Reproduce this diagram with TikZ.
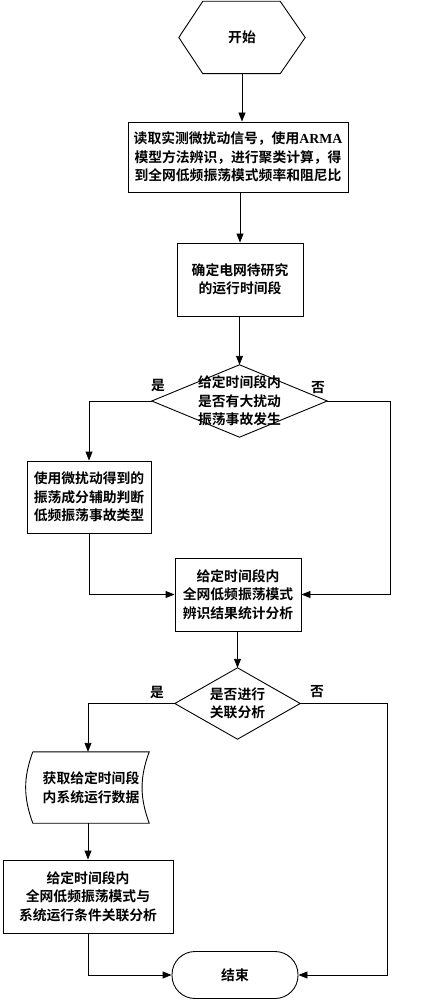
\documentclass[tikz,border=0pt]{standalone}
\usepackage{fontspec}
\usepackage{tikz}
\usetikzlibrary{arrows.meta, calc, positioning}
\newfontfamily\cjk{Noto Sans CJK SC}[BoldFont={Noto Sans CJK SC Bold}]
\newfontfamily\latin{Liberation Serif}

\begin{document}
\begin{tikzpicture}[x=1pt, y=-1pt,
  every node/.style={font=\cjk\bfseries\fontsize{13.8}{18.5}\selectfont, align=center},
  procbox/.style={draw, line width=0.9pt, inner sep=0pt},
  link/.style={line width=0.9pt},
  arr/.style={line width=0.9pt, -{Triangle[length=9pt, width=7pt]}}]

\useasboundingbox (0,0) rectangle (432,1000);

% Start (hexagon)
\node[minimum width=126pt, minimum height=72pt, inner sep=0pt] (start) at (242,37.5) {开始};
\draw[link] (start.west) -- ([xshift=24pt]start.north west) -- ([xshift=-25pt]start.north east)
  -- (start.east) -- ([xshift=-25pt]start.south east) -- ([xshift=24pt]start.south west) -- cycle;

% Read measured signals and identify modes
\node[procbox, minimum width=220pt, minimum height=70pt] (read) at (238,157)
  {读取实测微扰动信号，使用{\latin ARMA}\\模型方法辨识，进行聚类计算，得\\到全网低频振荡模式频率和阻尼比};

% Study period
\node[procbox, minimum width=126pt, minimum height=73pt] (period) at (240,279.5)
  {确定电网待研究\\的运行时间段};

% Decision: large disturbance?
\node[minimum width=175pt, minimum height=72pt, inner sep=0pt] (big) at (239.5,401)
  {给定时间段内\\是否有大扰动\\振荡事故发生};
\draw[link] (big.north) -- (big.east) -- (big.south) -- (big.west) -- cycle;
\node (yes1) at (158,385) {是};
\node (no1) at (318,388) {否};

% Event type
\node[procbox, minimum width=124pt, minimum height=72pt] (type) at (89,497)
  {使用微扰动得到的\\振荡成分辅助判断\\低频振荡事故类型};

% Statistics
\node[procbox, minimum width=126pt, minimum height=73pt] (stat) at (238,594.5)
  {给定时间段内\\全网低频振荡模式\\辨识结果统计分析};

% Decision: correlation?
\node[minimum width=125pt, minimum height=71pt, inner sep=0pt] (corr) at (237.5,703.5)
  {是否进行\\关联分析};
\draw[link] (corr.north) -- (corr.east) -- (corr.south) -- (corr.west) -- cycle;
\node (yes2) at (157,692) {是};
\node (no2) at (317,692) {否};

% Operating data (stored data)
\node[minimum width=116pt, minimum height=71pt, inner sep=0pt] (data) at (91,787.5)
  {获取给定时间段\\内系统运行数据};
\draw[link] (data.north west) -- (data.north east) to[bend right=20] (data.south east)
  -- (data.south west) to[bend left=20] (data.north west);

% Correlation analysis
\node[procbox, minimum width=170pt, minimum height=73pt] (assoc) at (88,896.5)
  {给定时间段内\\全网低频振荡模式与\\系统运行条件关联分析};

% End
\node[procbox, rounded corners=23pt, minimum width=126pt, minimum height=47pt] (finish) at (235,975) {结束};

% Connectors
\draw[arr] (start.south) -- (start.south |- read.north);
\draw[arr] (period.north |- read.south) -- (period.north);
\draw[arr] (big.north |- period.south) -- (big.north);
\draw[arr] (big.west) -| (type.north);
\draw[arr] (big.east) -- ++(63,0) |- (stat.east);
\draw[arr] (type.south) |- (stat.west);
\draw[arr] (corr.north |- stat.south) -- (corr.north);
\draw[arr] (corr.west) -| (assoc.north |- data.north);
\draw[arr] (corr.east) -- ++(87,0) |- (finish.east);
\draw[arr] (assoc.north |- data.south) -- (assoc.north);
\draw[arr] (assoc.south) |- (finish.west);

\end{tikzpicture}
\end{document}
